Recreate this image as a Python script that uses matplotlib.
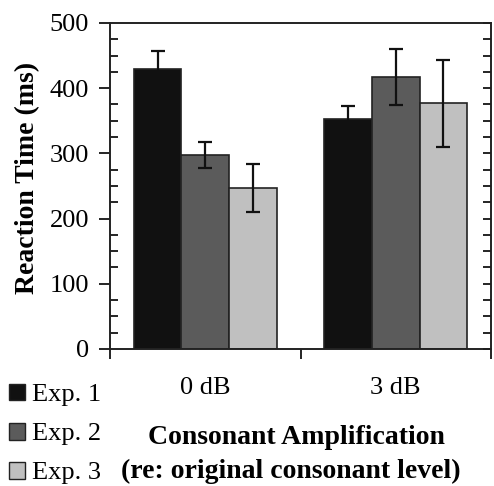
import numpy as np
import matplotlib
matplotlib.use("Agg")
import matplotlib.pyplot as plt
from matplotlib.patches import Patch
from matplotlib.ticker import MultipleLocator, FixedLocator

plt.rcParams['font.family'] = ['Liberation Serif', 'DejaVu Serif']

categories = ['0 dB', '3 dB']
series = ['Exp. 1', 'Exp. 2', 'Exp. 3']
means = {
    'Exp. 1': [429, 353],
    'Exp. 2': [298, 417],
    'Exp. 3': [247, 377],
}
errors = {
    'Exp. 1': [28, 20],
    'Exp. 2': [20, 43],
    'Exp. 3': [37, 67],
}
colors = ['#111111', '#5b5b5b', '#c0c0c0']

fig = plt.figure(figsize=(4.94, 4.86), dpi=100)
ax = fig.add_axes([0.2227, 0.2819, 0.7712, 0.6708])

x = np.arange(len(categories))
width = 0.25
for i, (name, col) in enumerate(zip(series, colors)):
    pos = x + (i - 1) * width
    ax.bar(pos, means[name], width, color=col, edgecolor='#222222', linewidth=1.2,
           label=name, zorder=2)
    ax.errorbar(pos, means[name], yerr=errors[name], fmt='none', ecolor='#111111',
                elinewidth=1.6, capsize=5, capthick=1.6, zorder=3)

ax.set_xlim(-0.5, 1.5)
ax.set_ylim(0, 500)

# left y axis: major ticks outward, minor inward
ax.yaxis.set_major_locator(MultipleLocator(100))
ax.yaxis.set_minor_locator(MultipleLocator(25))
ax.tick_params(axis='y', which='major', direction='out', length=8, width=1.2,
               labelsize=19, pad=7)
ax.tick_params(axis='y', which='minor', direction='in', length=6, width=1.2)

# right side: all ticks inward, no labels
axr = ax.twinx()
axr.set_ylim(ax.get_ylim())
axr.yaxis.set_major_locator(MultipleLocator(100))
axr.yaxis.set_minor_locator(MultipleLocator(25))
axr.tick_params(axis='y', which='both', direction='in', length=6, width=1.2,
                labelright=False)

# x axis: ticks at category boundaries, labels at centers
ax.xaxis.set_major_locator(FixedLocator([-0.5, 0.5, 1.5]))
ax.xaxis.set_minor_locator(FixedLocator(x))
ax.set_xticklabels([])
ax.set_xticklabels(categories, minor=True)
ax.tick_params(axis='x', which='major', direction='out', length=7, width=1.2)
ax.tick_params(axis='x', which='minor', length=0, labelsize=19, pad=20)

for a in (ax, axr):
    for s in a.spines.values():
        s.set_linewidth(1.2)
        s.set_color('#222222')

fig.text(28 / 494, 1 - 178 / 486, 'Reaction Time (ms)', rotation=90,
         ha='center', va='center', fontsize=20, fontweight='bold')

fig.text(0.601, 1 - 437 / 486, 'Consonant Amplification', ha='center', va='center',
         fontsize=20, fontweight='bold')
fig.text(0.589, 1 - 471 / 486, '(re: original consonant level)', ha='center', va='center',
         fontsize=20, fontweight='bold')

handles = [Patch(facecolor=c, edgecolor='#222222', linewidth=1.0) for c in colors]
fig.legend(handles, series, loc='lower left', bbox_to_anchor=(-0.008, -0.024),
           frameon=False, fontsize=19, handlelength=0.6, handleheight=0.6,
           handletextpad=0.25, labelspacing=0.62, borderpad=0.3, borderaxespad=0.2)

fig.savefig('out.png', dpi=100)
